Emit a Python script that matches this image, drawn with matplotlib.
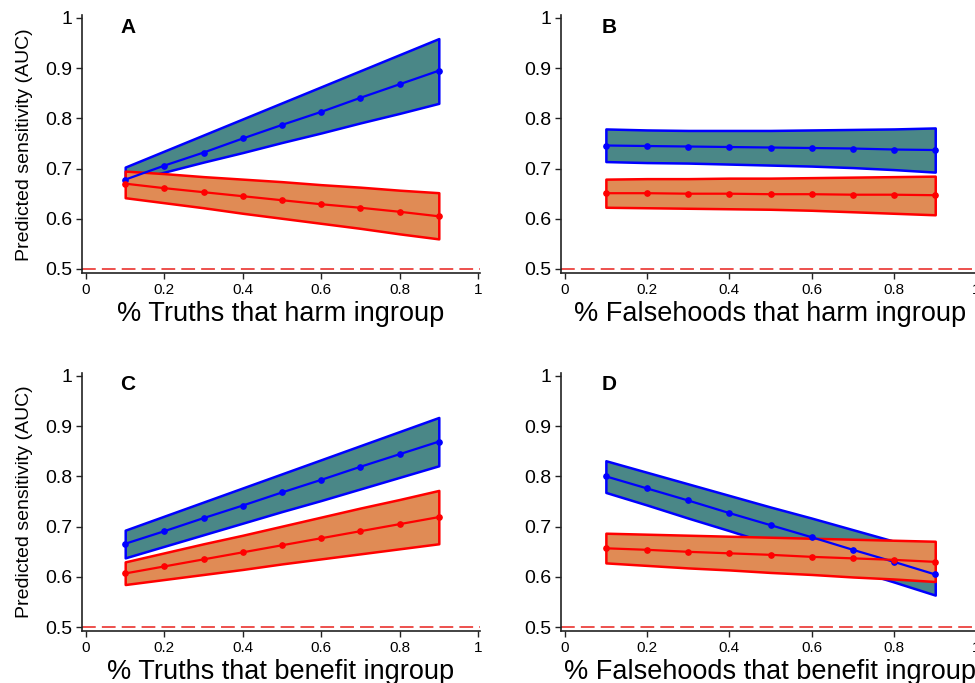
import matplotlib
matplotlib.use("Agg")
import matplotlib.pyplot as plt
import numpy as np

plt.rcParams['font.family'] = ['Liberation Sans', 'DejaVu Sans']

x = [0.1, 0.2, 0.3, 0.4, 0.5, 0.6, 0.7, 0.8, 0.9]

# Panel A: % Truths that harm ingroup
a_blue_mean = [0.678, 0.706, 0.732, 0.760, 0.787, 0.813, 0.841, 0.868, 0.895]
a_blue_hi   = [0.703, 0.735, 0.767, 0.799, 0.831, 0.863, 0.895, 0.927, 0.959]
a_blue_lo   = [0.673, 0.693, 0.713, 0.732, 0.752, 0.771, 0.791, 0.810, 0.830]
a_red_mean  = [0.670, 0.661, 0.653, 0.645, 0.637, 0.629, 0.622, 0.614, 0.605]
a_red_hi    = [0.695, 0.690, 0.684, 0.679, 0.674, 0.668, 0.663, 0.657, 0.652]
a_red_lo    = [0.642, 0.632, 0.622, 0.611, 0.601, 0.591, 0.581, 0.570, 0.560]

# Panel B: % Falsehoods that harm ingroup
b_blue_mean = [0.746, 0.745, 0.744, 0.743, 0.742, 0.741, 0.740, 0.738, 0.737]
b_blue_hi   = [0.779, 0.777, 0.776, 0.776, 0.776, 0.777, 0.778, 0.779, 0.781]
b_blue_lo   = [0.714, 0.712, 0.711, 0.709, 0.707, 0.705, 0.702, 0.698, 0.693]
b_red_mean  = [0.651, 0.651, 0.650, 0.650, 0.649, 0.649, 0.648, 0.648, 0.647]
b_red_hi    = [0.679, 0.680, 0.680, 0.681, 0.681, 0.682, 0.683, 0.684, 0.685]
b_red_lo    = [0.623, 0.622, 0.621, 0.620, 0.619, 0.617, 0.614, 0.611, 0.608]

# Panel C: % Truths that benefit ingroup
c_blue_mean = [0.666, 0.691, 0.717, 0.742, 0.768, 0.793, 0.819, 0.844, 0.869]
c_blue_hi   = [0.693, 0.721, 0.749, 0.777, 0.805, 0.833, 0.861, 0.889, 0.917]
c_blue_lo   = [0.638, 0.661, 0.684, 0.707, 0.730, 0.752, 0.775, 0.798, 0.821]
c_red_mean  = [0.607, 0.621, 0.635, 0.649, 0.663, 0.677, 0.691, 0.705, 0.719]
c_red_hi    = [0.630, 0.648, 0.666, 0.683, 0.701, 0.719, 0.737, 0.754, 0.772]
c_red_lo    = [0.585, 0.595, 0.605, 0.615, 0.626, 0.636, 0.646, 0.656, 0.666]

# Panel D: % Falsehoods that benefit ingroup
d_blue_mean = [0.800, 0.776, 0.752, 0.727, 0.703, 0.679, 0.654, 0.630, 0.605]
d_blue_hi   = [0.831, 0.808, 0.785, 0.762, 0.739, 0.717, 0.694, 0.671, 0.648]
d_blue_lo   = [0.768, 0.743, 0.717, 0.692, 0.666, 0.641, 0.615, 0.590, 0.564]
d_red_mean  = [0.657, 0.654, 0.650, 0.647, 0.644, 0.640, 0.637, 0.634, 0.630]
d_red_hi    = [0.687, 0.685, 0.683, 0.681, 0.679, 0.677, 0.675, 0.673, 0.671]
d_red_lo    = [0.628, 0.623, 0.618, 0.614, 0.609, 0.605, 0.600, 0.596, 0.591]

panels = [
    ("A", "% Truths that harm ingroup",
     a_blue_mean, a_blue_lo, a_blue_hi, a_red_mean, a_red_lo, a_red_hi),
    ("B", "% Falsehoods that harm ingroup",
     b_blue_mean, b_blue_lo, b_blue_hi, b_red_mean, b_red_lo, b_red_hi),
    ("C", "% Truths that benefit ingroup",
     c_blue_mean, c_blue_lo, c_blue_hi, c_red_mean, c_red_lo, c_red_hi),
    ("D", "% Falsehoods that benefit ingroup",
     d_blue_mean, d_blue_lo, d_blue_hi, d_red_mean, d_red_lo, d_red_hi),
]

xticks = [0, 0.2, 0.4, 0.6, 0.8, 1]
xticklabels = ["0", "0.2", "0.4", "0.6", "0.8", "1"]
yticks = [0.5, 0.6, 0.7, 0.8, 0.9, 1]
yticklabels = ["0.5", "0.6", "0.7", "0.8", "0.9", "1"]

W, H = 975, 683
fig = plt.figure(figsize=(W / 100, H / 100), dpi=100)

# pixel geometry: (left spine px, x0 px, px per unit), (top px, bottom spine px)
col_geo = [(82.0, 86.0, 392.0), (561.3, 564.7, 411.7)]
row_geo = [(18.0, 269.0, 273.0), (375.7, 627.3, 631.0)]

teal = "#4a8787"
orange = "#e08b55"

for i, (letter, xlabel, bm, bl, bh, rm, rl, rh) in enumerate(panels):
    r, c = divmod(i, 2)
    spine_x, x0, sx = col_geo[c]
    y1px, y05px, spine_y = row_geo[r]
    sy = (y05px - y1px) / 0.5
    xmin = (spine_x - x0) / sx
    xmax = 1.005
    ymin = 0.5 - (spine_y - y05px) / sy
    ymax = 1.005
    left_px = spine_x
    right_px = x0 + xmax * sx
    top_px = y1px - (ymax - 1) * sy
    ax = fig.add_axes([left_px / W, 1 - spine_y / H,
                       (right_px - left_px) / W, (spine_y - top_px) / H])
    ax.set_xlim(xmin, xmax)
    ax.set_ylim(ymin, ymax)

    ax.fill_between(x, bl, bh, facecolor=teal, edgecolor="#0000ff",
                    linewidth=1.8, zorder=2)
    ax.fill_between(x, rl, rh, facecolor=orange, edgecolor="#ff0000",
                    linewidth=1.8, zorder=3)
    ax.plot(x, bm, color="#0000ff", lw=1.6, marker="o", ms=3.8, zorder=4)
    ax.plot(x, rm, color="#ff0000", lw=1.6, marker="o", ms=3.8, zorder=5)
    ax.axhline(0.5, color="#e8211c", lw=1.1, dashes=(9, 4), zorder=1)

    for s in ["top", "right"]:
        ax.spines[s].set_visible(False)
    for s in ["left", "bottom"]:
        ax.spines[s].set_linewidth(1.2)
        ax.spines[s].set_color("#222222")

    ax.set_xticks(xticks)
    ax.set_xticklabels(xticklabels)
    ax.set_yticks(yticks)
    ax.set_yticklabels(yticklabels)
    ax.tick_params(axis="x", labelsize=11, length=4, width=1.0, pad=3.5,
                   color="#222222")
    ax.tick_params(axis="y", labelsize=14, length=4, width=1.0, pad=3,
                   color="#222222")

    ax.set_xlabel(xlabel, fontsize=19.5, labelpad=2.5)
    if c == 0:
        ax.set_ylabel("Predicted sensitivity (AUC)", fontsize=14)
        ax.yaxis.set_label_coords((33 - spine_x) / (right_px - left_px), 0.5)

    ax.text(0.107, 0.982, letter, fontsize=15, fontweight="bold",
            ha="center", va="center")

fig.savefig("out.png", dpi=100)
